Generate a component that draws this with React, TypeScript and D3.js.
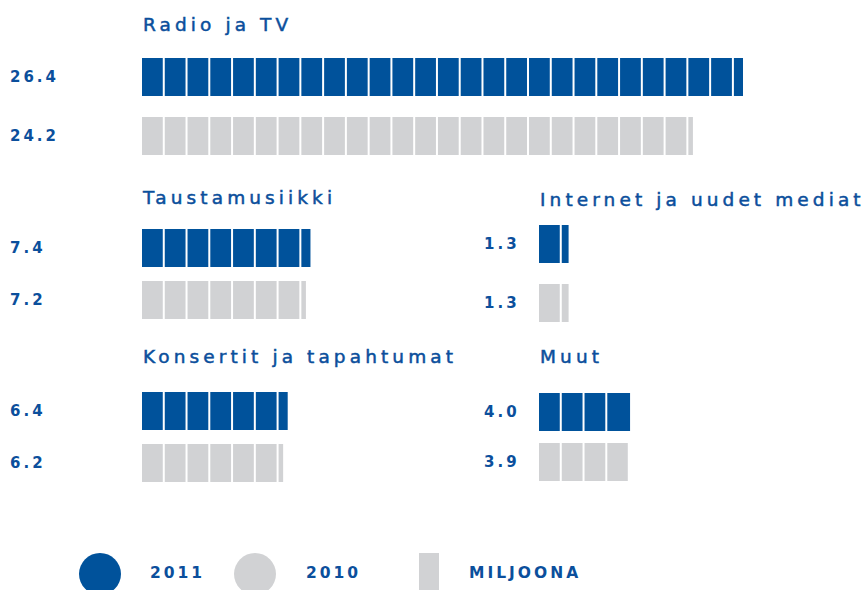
import React, { useEffect, useRef } from "react";
import * as d3 from "d3";

// data (miljoona)
const categories = ["Radio ja TV", "Taustamusiikki", "Internet ja uudet mediat", "Konsertit ja tapahtumat", "Muut"];
const values2011 = [26.4, 7.4, 1.3, 6.4, 4.0];
const values2010 = [24.2, 7.2, 1.3, 6.2, 3.9];
const years = ["2011", "2010"];
const unitLabel = "MILJOONA";

// where each block sits on the page
const layout = [
  { x: 142, labelX: 10, titleY: 31, y1: 58, y2: 117 },
  { x: 142, labelX: 10, titleY: 204, y1: 229, y2: 281 },
  { x: 539, labelX: 484, titleY: 206, y1: 225, y2: 284 },
  { x: 142, labelX: 10, titleY: 363, y1: 392, y2: 444 },
  { x: 539, labelX: 484, titleY: 363, y1: 393, y2: 443 },
];

const BLUE = "#00529b";
const GREY = "#d1d2d4";
const TEXT = "#0b4f9c";
const FONT = "'DejaVu Sans', sans-serif";

export default function App() {
  const ref = useRef<SVGSVGElement>(null);

  useEffect(() => {
    const svg = d3.select(ref.current);
    svg.selectAll("*").remove();

    // one unit = one million, ~22.8px
    const x = d3.scaleLinear().domain([0, 26.4]).range([0, 601]);
    const barH = 38;
    const gap = 2;

    const drawBar = (g: any, v: number, y: number, color: string) => {
      const units = d3.range(Math.ceil(v));
      g.selectAll(null)
        .data(units)
        .join("rect")
        .attr("x", (i: number) => x(i))
        .attr("y", y)
        .attr("width", (i: number) => {
          const end = Math.min(i + 1, v);
          const w = x(end) - x(i) - (i + 1 < v ? gap : 0);
          return Math.max(w, 0);
        })
        .attr("height", barH)
        .attr("fill", color);
    };

    categories.forEach((cat, k) => {
      const l = layout[k];
      const g = svg.append("g").attr("transform", `translate(${l.x},0)`);
      g.append("text")
        .attr("x", 1)
        .attr("y", l.titleY)
        .attr("fill", TEXT)
        .attr("stroke", TEXT)
        .attr("stroke-width", 0.5)
        .attr("font-family", FONT)
        .attr("font-size", 18.5)
        .attr("letter-spacing", 4.1)
        .text(cat);
      drawBar(g, values2011[k], l.y1, BLUE);
      drawBar(g, values2010[k], l.y2, GREY);

      [
        [values2011[k], l.y1],
        [values2010[k], l.y2],
      ].forEach(([v, y]) => {
        svg
          .append("text")
          .attr("x", l.labelX)
          .attr("y", y + barH / 2)
          .attr("dy", "0.36em")
          .attr("fill", TEXT)
          .attr("font-family", FONT)
          .attr("font-weight", "bold")
          .attr("font-size", 15)
          .attr("letter-spacing", 3)
          .text(v.toFixed(1));
      });
    });

    // legend
    const leg = svg.append("g");
    const cx = [100, 255];
    const tx = [150, 306];
    years.forEach((yr, i) => {
      leg.append("circle").attr("cx", cx[i]).attr("cy", 574).attr("r", 21).attr("fill", i === 0 ? BLUE : GREY);
      leg
        .append("text")
        .attr("x", tx[i])
        .attr("y", 578)
        .attr("fill", TEXT)
        .attr("font-family", FONT)
        .attr("font-weight", "bold")
        .attr("font-size", 15.5)
        .attr("letter-spacing", 3)
        .text(yr);
    });
    leg.append("rect").attr("x", 419).attr("y", 553).attr("width", 20).attr("height", 40).attr("fill", GREY);
    leg
      .append("text")
      .attr("x", 469)
      .attr("y", 578)
      .attr("fill", TEXT)
      .attr("font-family", FONT)
      .attr("font-weight", "bold")
      .attr("font-size", 15.5)
      .attr("letter-spacing", 3)
      .text(unitLabel);
  }, []);

  return <svg ref={ref} width={866} height={590} style={{ position: "absolute", left: 0, top: 0 }} />;
}
